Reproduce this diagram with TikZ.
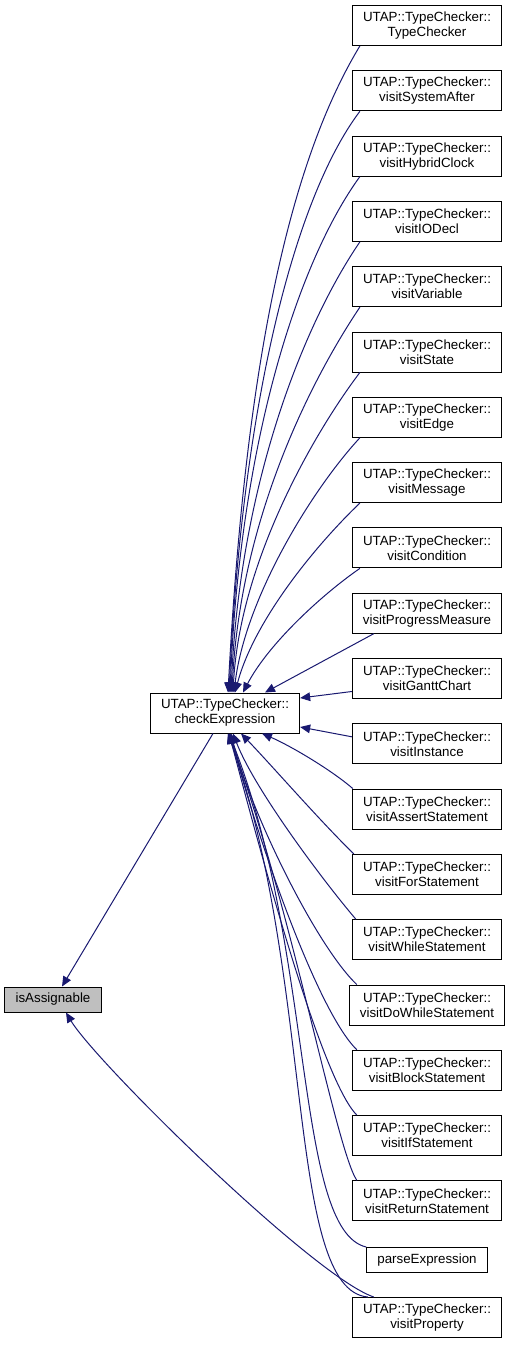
\documentclass[tikz,border=0pt]{standalone}
\usepackage{fontspec}
\setmainfont{Liberation Sans}
\usetikzlibrary{calc,arrows.meta}
\definecolor{edgeBlue}{RGB}{25,25,112}
\definecolor{nodeGray}{RGB}{191,191,191}

\begin{document}
\begin{tikzpicture}[x=0.75pt, y=-0.75pt,
    fn/.style={draw=black, line width=0.75pt, fill=white, align=center, inner xsep=8pt, inner ysep=2pt,
        minimum height=30pt, font=\fontsize{10}{11.25}\selectfont},
    leaf/.style={fn, minimum height=18.75pt},
    call/.style={draw=edgeBlue, line width=0.75pt, -{Triangle[length=7.5pt, width=6.5pt]}}]
    \useasboundingbox (0,0) rectangle (511,1345);
    % callers of checkExpression, one column
    \foreach \fn [count=\i from 0] in {TypeChecker, visitSystemAfter, visitHybridClock, visitIODecl,
        visitVariable, visitState, visitEdge, visitMessage, visitCondition, visitProgressMeasure,
        visitGanttChart, visitInstance, visitAssertStatement, visitForStatement, visitWhileStatement,
        visitDoWhileStatement, visitBlockStatement, visitIfStatement, visitReturnStatement} {
        \node[fn] (\fn) at (427, 25.5+65.3*\i) {UTAP::TypeChecker::\\\fn};
    }
    \node[leaf] (parseExpression) at (427,1260) {parseExpression};
    \node[fn] (visitProperty) at (427,1317.5) {UTAP::TypeChecker::\\visitProperty};
    \node[fn] (checkExpression) at (225,713) {UTAP::TypeChecker::\\checkExpression};
    \node[leaf, fill=nodeGray] (isAssignable) at (53,999.5) {isAssignable};
    % upper callers come in from above
    \foreach \fn/\ax/\ay/\bx/\by/\ex in {TypeChecker/-77/127/16/-301/3, visitSystemAfter/-67/89/13/-283/4,
        visitHybridClock/-61/84/10/-253/5, visitIODecl/-54/79/9/-213/6, visitVariable/-49/73/8/-173/7,
        visitState/-44/58/7/-133/8, visitEdge/-49/53/11/-93/9, visitMessage/-44/42/19/-72/10,
        visitCondition/-39/27/25/-48/18} {
        \draw[call] ($(\fn.south west)+(8,0)$) .. controls +(\ax,\ay) and +(\bx,\by) .. ($(checkExpression.north)+(\ex,0)$);
    }
    \draw[call] ($(visitProgressMeasure.south west)+(22,0)$) -- ($(checkExpression.north)+(40,0)$);
    \draw[call] ($(visitGanttChart.west)+(0,13)$) -- ($(checkExpression.east)+(0,-15)$);
    \draw[call] ($(visitInstance.west)+(0,-7)$) -- ($(checkExpression.east)+(0,14)$);
    % lower callers come in from below
    \foreach \fn/\sx/\ax/\ay/\bx/\by/\ex in {visitAssertStatement/1/-22/-19/28/12/37,
        visitForStatement/2/-33/-32/29/30/16, visitWhileStatement/4/-30/-35/22/57/8,
        visitDoWhileStatement/8/-41/-39/19/77/6, visitBlockStatement/5/-41/-40/25/97/5,
        visitIfStatement/5/-36/-36/31/117/4, visitReturnStatement/5/-21/-31/62/167/3,
        parseExpression/0/-72/-17/86/217/4, visitProperty/16/-82/-7/87/247/3} {
        \draw[call] ($(\fn.north west)+(\sx,0)$) .. controls +(\ax,\ay) and +(\bx,\by) .. ($(checkExpression.south)+(\ex,0)$);
    }
    \draw[call] ($(checkExpression.south)+(-12,0)$) -- ($(isAssignable.north)+(9,0)$);
    \draw[call] ($(visitProperty.north west)+(22,0)$) .. controls +(-60,-20) and +(30,50) .. ($(isAssignable.south)+(13,0)$);
\end{tikzpicture}
\end{document}
